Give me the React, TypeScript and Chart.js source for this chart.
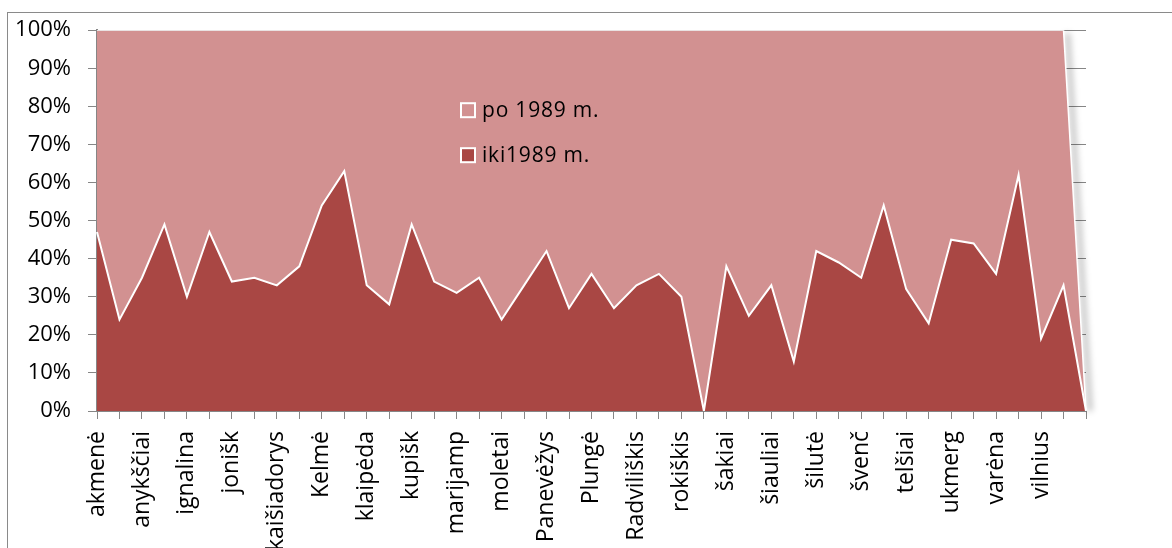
import React, { useEffect, useRef } from "react";
import { Chart, registerables } from "chart.js";

Chart.register(...registerables);

const categories: string[] = [
  "akmenė", "alytus", "anykščiai", "biržai", "ignalina", "jonava", "jonišk", "jurbarkas",
  "kaišiadorys", "kaunas", "Kelmė", "kėdainiai", "klaipėda", "kretinga", "kupišk", "lazdijai",
  "marijamp", "mažeikiai", "moletai", "pakruojis", "Panevėžys", "pasvalys", "Plungė", "prienai",
  "Radviliškis", "raseiniai", "rokiškis", "skuodas", "šakiai", "šalčininkai", "šiauliai", "šilalė",
  "šilutė", "širvintos", "švenč", "tauragė", "telšiai", "trakai", "ukmerg", "utena",
  "varėna", "vilkaviškis", "vilnius", "zarasai", "",
];

// share (%) built before 1989
const ikiValues: number[] = [
  47, 24, 35, 49, 30, 47, 34, 35, 33, 38, 54, 63, 33, 28, 49, 34, 31, 35, 24, 33, 42, 27, 36,
  27, 33, 36, 30, 0, 38, 25, 33, 13, 42, 39, 35, 54, 32, 23, 45, 44, 36, 62, 19, 33, 0,
];

// share (%) built after 1989
const poValues: number[] = [
  53, 76, 65, 51, 70, 53, 66, 65, 67, 62, 46, 37, 67, 72, 51, 66, 69, 65, 76, 67, 58, 73, 64,
  73, 67, 64, 70, 100, 62, 75, 67, 87, 58, 61, 65, 46, 68, 77, 55, 56, 64, 38, 81, 67, 0,
];

const yTickLabels: string[] = ["0%", "10%", "20%", "30%", "40%", "50%", "60%", "70%", "80%", "90%", "100%"];
const seriesLabels: string[] = ["iki1989 m.", "po 1989 m."];

const IKI_COLOR = "#A94744";
const PO_COLOR = "#D29191";
const AXIS_COLOR = "#868686";
const FONT = '"Open Sans", "DejaVu Sans", sans-serif';

const edgeShadowPlugin = {
  id: "edgeShadow",
  beforeDatasetsDraw(chart: any) {
    const xs = chart.scales.x;
    const ys = chart.scales.y;
    const n = categories.length;
    const x1 = xs.getPixelForValue(n - 2);
    const y1 = ys.getPixelForValue(ikiValues[n - 2] + poValues[n - 2]);
    const x2 = xs.getPixelForValue(n - 1);
    const y2 = ys.getPixelForValue(ikiValues[n - 1] + poValues[n - 1]);
    const ctx = chart.ctx;
    ctx.save();
    ctx.filter = "blur(3px)";
    ctx.strokeStyle = "rgba(0,0,0,0.25)";
    ctx.lineWidth = 5;
    ctx.beginPath();
    ctx.moveTo(x1 + 4, y1 + 3);
    ctx.lineTo(x2 + 4, y2);
    ctx.stroke();
    ctx.restore();
  },
};

const insideLegendPlugin = {
  id: "insideLegend",
  afterDatasetsDraw(chart: any) {
    const { ctx, chartArea } = chart;
    const ds = chart.data.datasets;
    const items = [ds[1], ds[0]];
    ctx.save();
    ctx.font = `21px ${FONT}`;
    try {
      (ctx as any).letterSpacing = "0.8px";
    } catch (e) {}
    ctx.textBaseline = "middle";
    ctx.textAlign = "left";
    items.forEach((it: any, i: number) => {
      const cy = chartArea.top + 80 + i * 45;
      const bx = chartArea.left + 364;
      ctx.fillStyle = it.backgroundColor;
      ctx.fillRect(bx, cy - 7, 14, 14);
      ctx.strokeStyle = "#ffffff";
      ctx.lineWidth = 2;
      ctx.strokeRect(bx, cy - 7, 14, 14);
      ctx.fillStyle = "#000000";
      ctx.fillText(it.label, bx + 21, cy + 1);
    });
    ctx.restore();
  },
};

export default function App() {
  const canvasRef = useRef<HTMLCanvasElement | null>(null);

  useEffect(() => {
    if (!canvasRef.current) return;
    const chart = new Chart(canvasRef.current, {
      type: "line",
      data: {
        labels: categories,
        datasets: [
          {
            label: seriesLabels[0],
            data: ikiValues,
            fill: "origin",
            backgroundColor: IKI_COLOR,
            borderColor: "#ffffff",
            borderWidth: 2,
            pointRadius: 0,
            tension: 0,
          },
          {
            label: seriesLabels[1],
            data: poValues,
            fill: "-1",
            backgroundColor: PO_COLOR,
            borderColor: "#ffffff",
            borderWidth: 1.5,
            pointRadius: 0,
            tension: 0,
          },
        ],
      },
      options: {
        responsive: false,
        animation: false,
        events: [],
        layout: { padding: { top: 28, right: 86, bottom: 0, left: 0 } },
        plugins: {
          legend: { display: false },
          tooltip: { enabled: false },
        },
        scales: {
          x: {
            offset: false,
            afterFit: (s: any) => {
              s.height = 137;
            },
            grid: {
              drawOnChartArea: false,
              drawTicks: true,
              tickLength: 8,
              color: AXIS_COLOR,
              lineWidth: 1,
            },
            border: { color: AXIS_COLOR, width: 2 },
            ticks: {
              autoSkip: false,
              maxRotation: 90,
              minRotation: 90,
              padding: 12,
              color: "#000000",
              font: { family: FONT, size: 23 },
              callback: (_v: any, i: number) => (i % 2 === 0 ? categories[i] : ""),
            },
          },
          y: {
            stacked: true,
            min: 0,
            max: 100,
            afterFit: (s: any) => {
              s.width = 97;
            },
            grid: {
              color: AXIS_COLOR,
              lineWidth: 1,
              drawTicks: true,
              tickLength: 9,
            },
            border: { color: AXIS_COLOR, width: 2 },
            ticks: {
              stepSize: 10,
              padding: 17,
              color: "#000000",
              font: { family: FONT, size: 22 },
              callback: (v: any) => yTickLabels[Math.round(Number(v) / 10)],
            },
          },
        },
      },
      plugins: [edgeShadowPlugin, insideLegendPlugin],
    } as any);
    return () => chart.destroy();
  }, []);

  return (
    <div style={{ position: "fixed", left: 0, top: 0, width: 1172, height: 548, overflow: "hidden", background: "#ffffff" }}>
      <div
        style={{
          position: "absolute",
          left: 7,
          top: 12,
          width: 1300,
          height: 700,
          border: "1px solid #8a8a8a",
          boxSizing: "border-box",
        }}
      />
      <canvas
        ref={canvasRef}
        width={1172}
        height={548}
        style={{ position: "absolute", left: 0, top: 0, width: 1172, height: 548, display: "block" }}
      />
    </div>
  );
}
